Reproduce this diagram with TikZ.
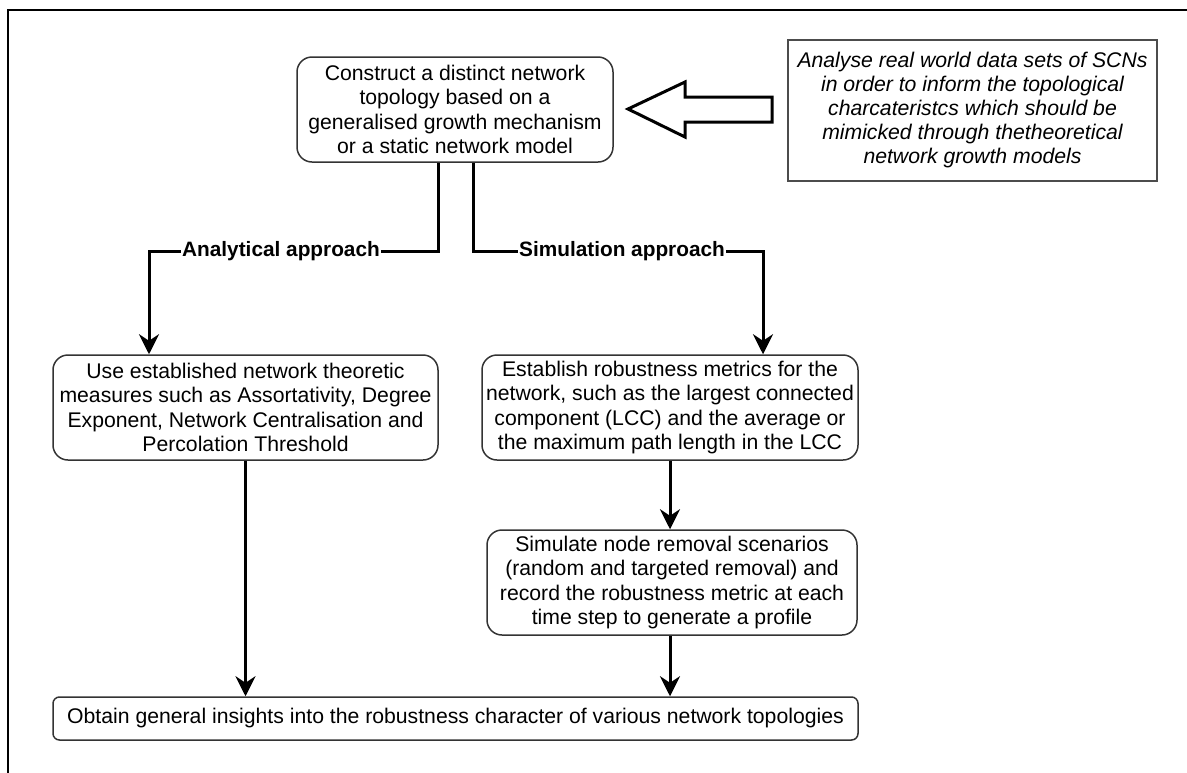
\documentclass[tikz,border=0pt]{standalone}
\usepackage{fontspec}
\setmainfont{Liberation Sans}
\usetikzlibrary{arrows.meta}
\begin{document}
\begin{tikzpicture}[x=1pt,y=-1pt,
  box/.style={draw=black!80, line width=1.5pt, align=center, inner sep=0pt,
    font=\fontsize{21.2}{24.5}\selectfont},
  rbox/.style={box, rounded corners=15pt},
  conn/.style={line width=3pt, -{Stealth[length=20pt,width=20pt,inset=6.5pt]}},
  lbl/.style={fill=white, inner sep=1pt, font=\fontsize{20.8}{24.5}\selectfont\bfseries}]
\clip (0,0) rectangle (1187,772);
\draw[line width=2pt] (8,790) -- (8,10) -- (1200,10);
\node[rbox, minimum width=316pt, minimum height=105pt] (top) at (455,109.5)
  {Construct a distinct network\\topology based on a\\generalised growth mechanism\\or a static network model};
\node[box, draw=black!70, minimum width=369pt, minimum height=141pt,
  font=\fontsize{21.2}{24}\selectfont\itshape] (data) at (972.5,110.5)
  {Analyse real world data sets of SCNs\\in order to inform the topological\\charcateristcs which should be\\mimicked through thetheoretical\\network growth models};
\node[rbox, minimum width=385pt, minimum height=105pt] (use) at (245.5,407.5)
  {Use established network theoretic\\measures such as Assortativity, Degree\\Exponent, Network Centralisation and\\Percolation Threshold};
\node[rbox, minimum width=376pt, minimum height=105pt] (est) at (670,407.5)
  {Establish robustness metrics for the\\network, such as the largest connected\\component (LCC) and the average or\\the maximum path length in the LCC};
\node[rbox, minimum width=370pt, minimum height=105pt] (sim) at (672,582.5)
  {Simulate node removal scenarios\\(random and targeted removal) and\\record the robustness metric at each\\time step to generate a profile};
\node[box, rounded corners=6.5pt, minimum width=805pt, minimum height=43pt] (bot) at (455.5,718.5)
  {Obtain general insights into the robustness character of various network topologies};
% block arrow
\draw[line width=3pt, line join=miter, fill=white]
  (628,109) -- (685,82) -- (685,97) -- (772,97) -- (772,122) -- (685,122) -- (685,137) -- cycle;
% connectors
\coordinate (la) at (438,251);
\coordinate (ra) at (473,251);
\draw[conn] ([xshift=-17pt]top.south) -- (la) -| ([xshift=-96.5pt]use.north);
\draw[conn] ([xshift=18pt]top.south) -- (ra) -| ([xshift=93pt]est.north);
\node[lbl] (lab1) at (281,251) {Analytical approach};
\node[lbl] (lab2) at (622,251) {Simulation approach};
\draw[conn] (est.south) -- (est.south |- sim.north);
\draw[conn] ([xshift=-2pt]sim.south) -- ([xshift=-2pt]sim.south |- bot.north);
\draw[conn] (use.south) -- (use.south |- bot.north);
\end{tikzpicture}
\end{document}
